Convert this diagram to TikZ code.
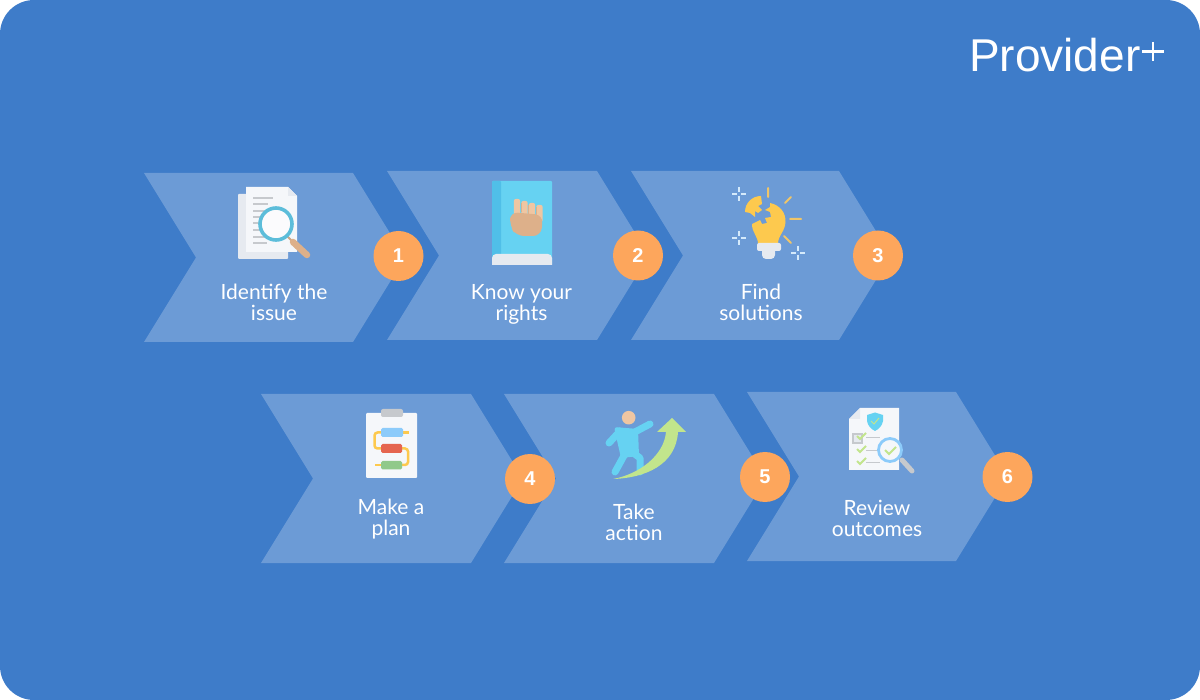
\documentclass[tikz,border=0pt]{standalone}
\usepackage{fontspec}
\setmainfont{Lato}
\newfontfamily\logofont{Liberation Sans}
\definecolor{bgblue}{HTML}{3E7CC9}
\definecolor{chev}{HTML}{6C9BD6}
\definecolor{orng}{HTML}{FDA65C}
\definecolor{paper}{HTML}{F5F7FA}
\definecolor{paperb}{HTML}{E6EAF0}
\definecolor{cyan1}{HTML}{66D2F2}
\definecolor{cyan2}{HTML}{50BFE8}
\definecolor{tan1}{HTML}{DDB08A}
\definecolor{tan2}{HTML}{EFC6A2}
\definecolor{yel}{HTML}{FDC94E}
\definecolor{yel2}{HTML}{F0C568}
\definecolor{spark}{HTML}{D5EAFB}
\definecolor{grayl}{HTML}{C6C9CD}
\definecolor{green1}{HTML}{C2E58C}
\definecolor{green2}{HTML}{90C98A}
\definecolor{red1}{HTML}{E5654F}
\definecolor{blue1}{HTML}{8CCBFA}
\tikzset{
  x=1pt,y=-1pt,
  num/.style={circle,fill=orng,minimum size=50pt,inner sep=0pt,text=white,font=\logofont\fontsize{20}{20}\selectfont\bfseries},
  lab/.style={text=white,align=center,font=\fontsize{21}{21}\selectfont,inner sep=0pt},
  chevfill/.style={fill=chev},
  ln/.style={line width=2pt,line cap=round},
  limb/.style={cyan1,line width=7pt,line cap=round,line join=round}
}
\newcommand{\chevron}[3]{% left x, top y, width of top edge
  \fill[chevfill] (#1,#2) -- ++(#3,0) -- ++(52,84.5) -- ++(-52,84.5) -- ++(-#3,0) -- ++(52,-84.5) -- cycle;}
\newcommand{\sparkle}[2]{%
  \draw[spark,line width=1.3pt] (#1-7,#2) -- (#1-2,#2) (#1+2,#2) -- (#1+7,#2) (#1,#2-7) -- (#1,#2-2) (#1,#2+2) -- (#1,#2+7);}
\begin{document}
\begin{tikzpicture}
\useasboundingbox (0,0) rectangle (1200,700);
\fill[white] (0,0) rectangle (1200,700);
\fill[bgblue,rounded corners=34pt] (0,0) rectangle (1200,700);

% chevrons
\chevron{144}{173}{209}
\chevron{387}{171}{210}
\chevron{631}{171}{208}
\chevron{261}{394}{210}
\chevron{504}{394}{210}
\chevron{747}{392}{209}

% icon 1
\fill[paperb,rounded corners=1pt] (238,194) rectangle (288,259);
\fill[paper] (246,187) -- (288,187) -- (297,196) -- (297,252) -- (246,252) -- cycle;
\fill[paperb] (288,187) -- (297,196) -- (288,196) -- cycle;
\foreach \y/\w in {198/20,204/15,211/12,217/8,223/8,230/8,237/14,243/14}
  \draw[grayl,line width=1.3pt] (253,\y) -- ++(\w,0);
\draw[tan1!80!gray,line width=2pt] (287,236) -- (293,242);
\draw[tan1,line width=6.5pt,line cap=round] (293,242) -- (307,255);
\fill[white,opacity=.6] (276,224) circle (15);
\draw[cyan1!90!black,line width=3.6pt] (276,224) circle (16);

% icon 2
\fill[cyan1,rounded corners=1pt] (492,181) rectangle (552,265);
\fill[cyan2,rounded corners=1pt] (492,181) rectangle (501,260);
\fill[paperb,rounded corners=4pt] (492,265) -- (492,254) -- (552,254) [sharp corners] -- (552,265) -- cycle;
\foreach \x/\t in {517/199,524.5/201,532/203,539.5/205}
  \fill[tan2,rounded corners=2pt] (\x-3.2,\t) rectangle (\x+3.2,\t+17);
\fill[tan1,rounded corners=8pt] (510,212) -- (543,215) -- (541,236) -- (516,236) -- (510,226) -- cycle;
\foreach \x/\t in {521/210,528.5/212,536/214}
  \draw[tan1,line width=1pt] (\x,\t-7) -- (\x,\t+2);

% icon 3
\fill[yel] (770,203) .. controls (780,205) and (786,213) .. (785.5,222)
  .. controls (785,232) and (778,235) .. (778,244) -- (758,244)
  .. controls (758,236) and (752,233) .. (752,224)
  -- (760,220) -- (762,224) -- (767,223) -- (765,218) -- (771,217) -- (770,212) -- (765,210) -- (770,207) -- cycle;
\fill[yel] (745,212) .. controls (745,203) and (752,196) .. (761,196)
  -- (762,204) -- (758,206) -- (762,210) -- (758,213) -- (755,211) -- (755,217) -- (750,213) -- cycle;
\fill[paperb,rounded corners=2pt] (757,243) rectangle (781,251);
\fill[paperb,rounded corners=4pt] (762,247) rectangle (775,259);
\draw[yel2,ln] (768,188) -- (768,197) (785,203) -- (791,197) (790,219) -- (801,219) (784,236) -- (791,243);
\sparkle{739}{194}
\sparkle{739}{238}
\sparkle{798}{253}

% icon 4
\fill[paper,rounded corners=1pt] (366,413) rectangle (417,478);
\fill[grayl,rounded corners=2pt] (381,409) rectangle (403,417);
\draw[yel,line width=2.5pt,rounded corners=3pt] (381,432.5) -- (374.5,432.5) -- (374.5,448.5) -- (382,448.5);
\draw[yel,line width=2.5pt,rounded corners=3pt] (402,448.5) -- (408,448.5) -- (408,465) -- (402,465);
\draw[yel,line width=2.5pt] (402,432.5) -- (408.5,432.5) (381,465) -- (374.5,465);
\fill[blue1,rounded corners=1.5pt] (381,428) rectangle (403,437);
\fill[red1,rounded corners=1.5pt] (381,444) rectangle (402,453);
\fill[green2,rounded corners=1.5pt] (381,461) rectangle (402,469.5);

% icon 5
\fill[tan2] (628.7,417.7) circle (6.8);
\draw[limb] (633,433) -- (650,424);
\draw[limb] (620,431) -- (609,443);
\draw[limb] (626,452) -- (615,472);
\draw[limb] (632,452) -- (640,458) -- (640,472);
\fill[cyan1,rounded corners=3pt] (614,427) -- (638,429) -- (639,456) -- (621,458) -- cycle;
\fill[green1] (672,418) -- (686,432) -- (678,432) .. controls (676,465) and (645,478) .. (613,479)
  .. controls (640,474) and (664,455) .. (666,432) -- (657,432) -- cycle;

% icon 6
\fill[paper] (860,408) -- (899,408) -- (899,470) -- (849,470) -- (849,419) -- cycle;
\fill[paperb] (860,408) -- (860,419) -- (849,419) -- cycle;
\fill[cyan1] (867,415) -- (875,412.5) -- (883,415) -- (883,421) .. controls (882,426) and (879,429) .. (875,431) .. controls (871,429) and (868,426) .. (867,421) -- cycle;
\draw[green1,line width=1pt] (871,421) -- (874,424) -- (879,418);
\fill[paperb] (853,434) rectangle (862,443);
\draw[grayl,line width=1.5pt] (853,434) rectangle (862,443);
\foreach \y in {437,450,462} {
  \draw[green1,line width=2pt] (857,\y-1) -- (860,\y+2) -- (866,\y-4);
  \draw[grayl,line width=1.5pt] (866,\y+.5) -- (880,\y+.5);
}
\draw[grayl,line width=5pt,line cap=round] (902,460) -- (912,471);
\fill[paper] (890,450) circle (10.5);
\draw[blue1,line width=2.8pt] (890,450) circle (11.5);
\draw[green1,line width=1.8pt] (885,450) -- (889,454) -- (896,447);

% labels
\node[lab] (t1) at (274,302.5) {Identify the\\issue};
\node[lab] (t2) at (521.5,304) {Know your\\rights};
\node[lab] (t3) at (761,302.5) {Find\\solutions};
\node[lab] (t4) at (391,519) {Make a\\plan};
\node[lab] (t5) at (634,522.5) {Take\\action};
\node[lab] (t6) at (877,518) {Review\\outcomes};

% numbers
\node[num] (n1) at (398.5,256) {1};
\node[num] (n2) at (638,255.5) {2};
\node[num] (n3) at (878,255.5) {3};
\node[num] (n4) at (530,479) {4};
\node[num] (n5) at (765,477) {5};
\node[num] (n6) at (1007.5,477) {6};

% logo
\node[text=white,inner sep=0pt,anchor=base west,font=\logofont\fontsize{46}{46}\selectfont] (logo) at (969,71.5) {Provider};
\draw[white,line width=2.6pt] (1142,51.5) -- (1164,51.5) (1153,42) -- (1153,61);
\end{tikzpicture}
\end{document}
